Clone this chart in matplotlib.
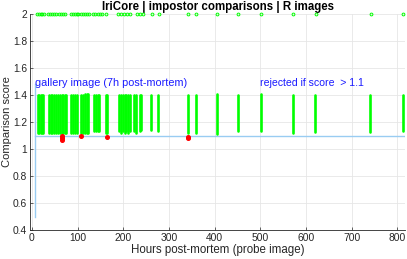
import matplotlib
matplotlib.use("Agg")
import matplotlib.pyplot as plt

# ---- data ----
bar_hours = [13, 16, 19, 22, 25,
             37, 41, 45, 49, 53, 57, 61, 65, 69, 73, 75,
             86, 90, 94, 98,
             108, 112, 116, 120, 124,
             137, 141, 145, 147,
             162, 164,
             191, 195, 199, 203, 207, 211, 214,
             224, 228,
             236, 240,
             260, 277, 341, 359,
             405, 452, 501, 572, 621, 741, 813]
bar_low = [1.12, 1.12, 1.12, 1.12, 1.12,
           1.12, 1.12, 1.12, 1.12, 1.12, 1.12, 1.12, 1.12, 1.12, 1.12, 1.12,
           1.12, 1.12, 1.12, 1.12,
           1.12, 1.12, 1.12, 1.12, 1.12,
           1.13, 1.13, 1.13, 1.13,
           1.12, 1.12,
           1.13, 1.12, 1.13, 1.12, 1.13, 1.12, 1.13,
           1.13, 1.12,
           1.13, 1.14,
           1.14, 1.13, 1.12, 1.12,
           1.11, 1.13, 1.13, 1.12, 1.125, 1.125, 1.13]
bar_high = [1.40, 1.40, 1.40, 1.40, 1.40,
            1.40, 1.40, 1.40, 1.40, 1.40, 1.40, 1.40, 1.40, 1.40, 1.40, 1.40,
            1.40, 1.40, 1.40, 1.40,
            1.40, 1.40, 1.41, 1.41, 1.41,
            1.40, 1.40, 1.40, 1.40,
            1.40, 1.40,
            1.40, 1.40, 1.40, 1.40, 1.40, 1.40, 1.40,
            1.40, 1.40,
            1.40, 1.40,
            1.40, 1.40, 1.40, 1.40,
            1.41, 1.40, 1.41, 1.40, 1.40, 1.40, 1.40]

top_hours = [11, 15, 19, 23, 27,
             35, 39, 44, 49, 54, 59, 64, 69, 73,
             86, 90, 94, 98, 101,
             108, 112, 117, 121, 125,
             134, 139, 144, 149, 154,
             162,
             189, 195, 201, 208, 215,
             230, 236, 243,
             263, 278, 342, 359, 405, 451, 501, 572, 622, 742, 813]
top_scores = [2.0] * len(top_hours)

red_hours = [67, 67, 67, 108, 164, 341, 341]
red_scores = [1.10, 1.085, 1.07, 1.10, 1.087, 1.09, 1.08]

gallery_hour = 7
threshold = 1.1

x_ticks = [0, 100, 200, 300, 400, 500, 600, 700, 800]
y_ticks = [0.4, 0.6, 0.8, 1.0, 1.2, 1.4, 1.6, 1.8, 2.0]
y_ticklabels = ["0.4", "0.6", "0.8", "1", "1.2", "1.4", "1.6", "1.8", "2"]

title = "IriCore | impostor comparisons | R images"
xlabel = "Hours post-mortem (probe image)"
ylabel = "Comparison score"
gallery_text = "gallery image (7h post-mortem)"
reject_text = "rejected if score  > 1.1"

# ---- figure ----
plt.rcParams['font.family'] = ['Liberation Sans', 'DejaVu Sans']
fig = plt.figure(figsize=(4.07, 2.59), dpi=100)
ax = fig.add_axes([30 / 407, 1 - 230 / 259, 375 / 407, 216 / 259])

green = (0.0, 1.0, 0.0)
lblue = (0.6, 0.8, 0.95)
txt = (0.15, 0.15, 0.15)

ax.set_xlim(-4, 817)
ax.set_ylim(0.4, 2.0)

# reference lines
ax.plot([gallery_hour, gallery_hour], [0.5, 1.48], color=lblue, lw=1.0, zorder=2)
ax.plot([gallery_hour, 817], [threshold, threshold], color=lblue, lw=1.0, zorder=2)

# green bars of impostor scores
ax.vlines(bar_hours, bar_low, bar_high, colors=[green], lw=1.9,
          capstyle='round', zorder=3)

# scores at 2
ax.plot(top_hours, top_scores, 'o', ms=2.0, mfc='none', mec=green, mew=0.7,
        zorder=4, clip_on=False)

# red points
ax.plot(red_hours, red_scores, 'o', ms=2.6, color='red', mec='red', zorder=5)

# texts
ax.text(gallery_hour + 1, 1.49, gallery_text, color=(0.1, 0.1, 1.0),
        fontsize=7.8, ha='left', va='center')
ax.text(500, 1.49, reject_text, color=(0.1, 0.1, 1.0),
        fontsize=7.6, ha='left', va='center')

ax.set_xticks(x_ticks)
ax.set_yticks(y_ticks)
ax.set_yticklabels(y_ticklabels)
ax.tick_params(direction='in', length=2.5, width=0.5, labelsize=7.4,
               colors=txt, pad=2)
ax.grid(True, color=(0.9, 0.9, 0.9), lw=0.6)
ax.set_axisbelow(True)
for s in ['top', 'right']:
    ax.spines[s].set_visible(False)
for s in ['left', 'bottom']:
    ax.spines[s].set_color(txt)
    ax.spines[s].set_linewidth(0.6)

ax.set_xlabel(xlabel, fontsize=8.3, color=txt, labelpad=1)
ax.set_ylabel(ylabel, fontsize=8.0, color=txt, labelpad=1)
ax.set_title(title, fontsize=8.3, fontweight='bold', color='black', pad=3)

fig.savefig("out.png", dpi=100)
